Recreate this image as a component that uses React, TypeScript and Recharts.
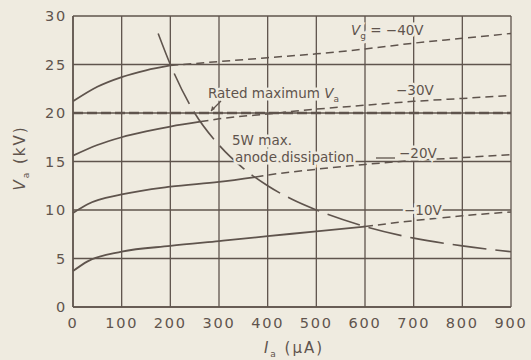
import { LineChart, Line, XAxis, YAxis, CartesianGrid } from "recharts";

// anode current (µA) vs anode voltage (kV)
const xTicks = [0, 100, 200, 300, 400, 500, 600, 700, 800, 900];
const yTicks = [0, 5, 10, 15, 20, 25, 30];

const g40Solid = [
  { x: 0, v: 21.2 }, { x: 50, v: 22.7 }, { x: 100, v: 23.7 }, { x: 150, v: 24.4 }, { x: 200, v: 24.9 },
];
const g40Dashed = [
  { x: 200, v: 24.9 }, { x: 300, v: 25.3 }, { x: 400, v: 25.7 }, { x: 500, v: 26.1 },
  { x: 600, v: 26.6 }, { x: 700, v: 27.2 }, { x: 800, v: 27.7 }, { x: 900, v: 28.2 },
];
const g30Solid = [
  { x: 0, v: 15.6 }, { x: 50, v: 16.7 }, { x: 100, v: 17.5 }, { x: 150, v: 18.1 }, { x: 200, v: 18.6 }, { x: 262, v: 19.1 },
];
const g30Dashed = [
  { x: 262, v: 19.1 }, { x: 300, v: 19.4 }, { x: 400, v: 19.9 }, { x: 500, v: 20.4 },
  { x: 600, v: 20.8 }, { x: 700, v: 21.2 }, { x: 800, v: 21.5 }, { x: 900, v: 21.8 },
];
const g20Solid = [
  { x: 0, v: 9.7 }, { x: 30, v: 10.6 }, { x: 100, v: 11.6 }, { x: 200, v: 12.4 }, { x: 300, v: 12.9 }, { x: 375, v: 13.4 },
];
const g20Dashed = [
  { x: 375, v: 13.4 }, { x: 400, v: 13.6 }, { x: 500, v: 14.2 }, { x: 600, v: 14.7 },
  { x: 700, v: 15.1 }, { x: 800, v: 15.4 }, { x: 900, v: 15.7 },
];
const g10Solid = [
  { x: 0, v: 3.7 }, { x: 30, v: 4.7 }, { x: 100, v: 5.7 }, { x: 200, v: 6.3 }, { x: 300, v: 6.8 },
  { x: 400, v: 7.3 }, { x: 500, v: 7.8 }, { x: 600, v: 8.3 },
];
const g10Dashed = [
  { x: 600, v: 8.3 }, { x: 700, v: 8.9 }, { x: 800, v: 9.4 }, { x: 900, v: 9.8 },
];
const dissipation = [
  { x: 175, v: 28.2 }, { x: 200, v: 25.0 }, { x: 250, v: 20.0 }, { x: 300, v: 16.7 }, { x: 350, v: 14.3 },
  { x: 400, v: 12.5 }, { x: 450, v: 11.1 }, { x: 500, v: 10.0 }, { x: 600, v: 8.3 }, { x: 700, v: 7.1 },
  { x: 800, v: 6.3 }, { x: 900, v: 5.7 },
];
const ratedMax = [{ x: 0, v: 20 }, { x: 900, v: 20 }];

const BG = "#efebe0";
const INK = "#5f544d";
const FONT = "'DejaVu Sans', sans-serif";

const tickStyle = { fontSize: 14.5, fill: INK, fontFamily: FONT, letterSpacing: 1.8 };

function Sub({ main, sub }: { main: string; sub: string }) {
  return (
    <>
      <tspan fontStyle="italic">{main}</tspan>
      <tspan fontSize={9} dy={4}>{sub}</tspan>
      <tspan dy={-4}> </tspan>
    </>
  );
}

export default function App() {
  const solid = { stroke: INK, strokeWidth: 1.8, dot: false, type: "monotone" as const, isAnimationActive: false };
  const dashed = { ...solid, strokeWidth: 1.5, strokeDasharray: "8 5" };
  const halo = { stroke: BG, strokeWidth: 5, paintOrder: "stroke" as const, fill: INK, fontFamily: FONT, fontSize: 13.5 };

  return (
    <div style={{ position: "absolute", left: 0, top: 0, width: 531, height: 360, background: BG }}>
      <LineChart width={531} height={360} margin={{ top: 16, right: 20, left: 0, bottom: 0 }}>
        <CartesianGrid stroke={INK} strokeWidth={1.3} horizontalValues={yTicks} verticalValues={xTicks} />
        <XAxis
          dataKey="x"
          type="number"
          domain={[0, 900]}
          ticks={xTicks}
          height={53}
          tickSize={0}
          tickMargin={11}
          tick={tickStyle}
          axisLine={{ stroke: INK, strokeWidth: 1.5 }}
          interval={0}
        />
        <YAxis
          type="number"
          domain={[0, 30]}
          ticks={yTicks}
          width={73}
          tickSize={0}
          tickMargin={6}
          tick={tickStyle}
          axisLine={{ stroke: INK, strokeWidth: 1.5 }}
          interval={0}
        />
        <Line data={ratedMax} dataKey="v" stroke={INK} strokeWidth={2.4} strokeDasharray="10 4" dot={false} isAnimationActive={false} />
        <Line data={g40Solid} dataKey="v" {...solid} />
        <Line data={g40Dashed} dataKey="v" {...dashed} />
        <Line data={g30Solid} dataKey="v" {...solid} />
        <Line data={g30Dashed} dataKey="v" {...dashed} />
        <Line data={g20Solid} dataKey="v" {...solid} />
        <Line data={g20Dashed} dataKey="v" {...dashed} />
        <Line data={g10Solid} dataKey="v" {...solid} />
        <Line data={g10Dashed} dataKey="v" {...dashed} />
        <Line data={dissipation} dataKey="v" {...solid} strokeWidth={1.6} strokeDasharray="34 9" />
      </LineChart>

      <svg width={531} height={360} style={{ position: "absolute", left: 0, top: 0, pointerEvents: "none" }}>
        <text x={351} y={35} {...halo}>
          <Sub main="V" sub="g" /> = −40V
        </text>
        <text x={208} y={98} {...halo}>
          Rated maximum <Sub main="V" sub="a" />
        </text>
        <line x1={221} y1={101} x2={211} y2={111} stroke={INK} strokeWidth={1.2} />
        <path d="M211,111 l1,-5 l3,3 z" fill={INK} />
        <text x={396} y={95} {...halo}>−30V</text>
        <text x={232} y={145} {...halo}>5W max.</text>
        <text x={235} y={162} {...halo}>anode dissipation</text>
        <line x1={376} y1={158} x2={395} y2={158} stroke={INK} strokeWidth={1.3} />
        <text x={399} y={158} {...halo}>−20V</text>
        <text x={404} y={215} {...halo}>−10V</text>

        <text x={294} y={353} fill={INK} fontFamily={FONT} fontSize={15} textAnchor="middle" letterSpacing={2}>
          <Sub main="I" sub="a" /> (μA)
        </text>
        <text transform="translate(25,158) rotate(-90)" fill={INK} fontFamily={FONT} fontSize={15} textAnchor="middle" letterSpacing={2}>
          <Sub main="V" sub="a" /> (kV)
        </text>
      </svg>
    </div>
  );
}
